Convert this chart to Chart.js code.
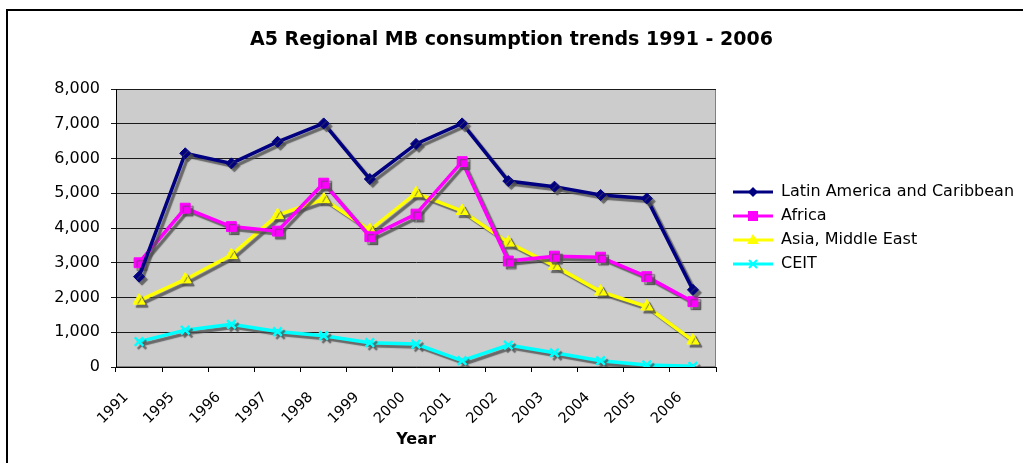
<!DOCTYPE html>
<html>
<head>
<meta charset="utf-8">
<script src="https://cdn.jsdelivr.net/npm/chart.js@4/dist/chart.umd.min.js"></script>
<style>
  html, body { margin: 0; padding: 0; background: #fff; overflow: hidden; }
  #wrap { position: relative; width: 1023px; height: 463px; }
  #frame { position: absolute; left: 6px; top: 9px; width: 1100px; height: 600px; border: 2px solid #000; pointer-events: none; }
</style>
</head>
<body>
<div id="wrap">
  <canvas id="chart" width="1023" height="463"></canvas>
  <div id="frame"></div>
</div>
<script>
const years = ["1991", "1995", "1996", "1997", "1998", "1999", "2000", "2001", "2002", "2003", "2004", "2005", "2006"];
const latinAmerica = [2600, 6150, 5860, 6480, 7010, 5410, 6420, 7010, 5350, 5190, 4950, 4850, 2220];
const africa = [3000, 4570, 4040, 3910, 5290, 3750, 4400, 5910, 3050, 3190, 3160, 2600, 1880];
const asiaMiddleEast = [1910, 2520, 3220, 4370, 4830, 3940, 5000, 4490, 3580, 2910, 2170, 1740, 760];
const ceit = [730, 1060, 1230, 1020, 900, 700, 660, 180, 630, 410, 180, 60, 20];
const seriesNames = ["Latin America and Caribbean", "Africa", "Asia, Middle East", "CEIT"];

const FONT = "'DejaVu Sans', Verdana, sans-serif";
const LEGEND_WIDTH = 307;

// legend icon: short line with the marker in the middle, like Excel
function legendIcon(color, shape) {
  const c = document.createElement("canvas");
  c.width = 49; c.height = 16;
  const g = c.getContext("2d");
  g.strokeStyle = color; g.fillStyle = color; g.lineWidth = 3;
  g.beginPath(); g.moveTo(9, 8); g.lineTo(49, 8); g.stroke();
  const x = 29, y = 8;
  g.beginPath();
  if (shape === "diamond") {
    g.moveTo(x, y - 5); g.lineTo(x + 5, y); g.lineTo(x, y + 5); g.lineTo(x - 5, y); g.closePath(); g.fill();
  } else if (shape === "square") {
    g.fillRect(x - 5, y - 5, 10, 10);
  } else if (shape === "triangle") {
    g.moveTo(x, y - 6); g.lineTo(x + 6, y + 4); g.lineTo(x - 6, y + 4); g.closePath(); g.fill();
  } else {
    g.lineWidth = 2;
    g.moveTo(x - 4, y - 4); g.lineTo(x + 4, y + 4); g.moveTo(x + 4, y - 4); g.lineTo(x - 4, y + 4); g.stroke();
  }
  return c;
}

const colors = ["#000080", "#FF00FF", "#FFFF00", "#00FFFF"];
const icons = [
  legendIcon(colors[0], "diamond"),
  legendIcon(colors[1], "square"),
  legendIcon(colors[2], "triangle"),
  legendIcon(colors[3], "cross")
];

const plotFrame = {
  id: "plotFrame",
  afterInit(chart) {
    // let the legend be as wide as in the original (layout caps it otherwise)
    const lg = chart.legend;
    const fit = lg.fit;
    lg.fit = function () { fit.call(this); this.width = LEGEND_WIDTH; };
  },
  beforeDraw(chart) {
    const { ctx, chartArea: a } = chart;
    ctx.save();
    ctx.fillStyle = "#cccccc";
    ctx.fillRect(a.left, a.top, a.width, a.height);
    ctx.strokeStyle = "#808080";
    ctx.lineWidth = 1;
    ctx.strokeRect(a.left + 0.5, a.top + 0.5, a.width - 1, a.height - 1);
    ctx.restore();
  },
  beforeDatasetsDraw(chart) {
    const ctx = chart.ctx;
    ctx.save();
    ctx.shadowColor = "rgba(80,80,80,0.8)";
    ctx.shadowOffsetX = 3;
    ctx.shadowOffsetY = 3;
    ctx.shadowBlur = 1;
  },
  afterDatasetsDraw(chart) {
    chart.ctx.restore();
  }
};

function series(i, data, style, radius) {
  return {
    label: seriesNames[i],
    data: data,
    borderColor: colors[i],
    backgroundColor: colors[i],
    borderWidth: 3.5,
    pointStyle: style,
    pointRadius: radius,
    pointBorderWidth: style === "crossRot" ? 2.5 : 1,
    pointHoverRadius: radius,
    tension: 0
  };
}

new Chart(document.getElementById("chart"), {
  type: "line",
  data: {
    labels: years,
    datasets: [
      series(0, latinAmerica, "rectRot", 5.5),
      series(1, africa, "rect", 7),
      series(2, asiaMiddleEast, "triangle", 7),
      series(3, ceit, "crossRot", 6)
    ]
  },
  options: {
    responsive: false,
    animation: false,
    events: [],
    layout: { padding: { left: 0, right: 0, top: 0, bottom: 0 } },
    plugins: {
      title: {
        display: true,
        text: "A5 Regional MB consumption trends 1991 - 2006",
        color: "#000",
        font: { family: FONT, size: 19, weight: "bold" },
        padding: { top: 28.6, bottom: 37.6 }
      },
      legend: {
        position: "right",
        fullSize: false,
        labels: {
          color: "#000",
          font: { family: FONT, size: 16 },
          padding: 8,
          usePointStyle: true,
          pointStyleWidth: 49,
          boxHeight: 16,
          generateLabels: chart => chart.data.datasets.map((ds, i) => ({
            text: ds.label,
            pointStyle: icons[i],
            fillStyle: ds.borderColor,
            strokeStyle: ds.borderColor,
            lineWidth: 0,
            hidden: false,
            datasetIndex: i
          }))
        }
      },
      tooltip: { enabled: false }
    },
    scales: {
      x: {
        offset: true,
        afterFit: s => { s.height = 96; },
        grid: { display: true, offset: true, drawOnChartArea: false, drawTicks: true, tickLength: 5, color: "#000" },
        border: { display: true, color: "#000", width: 1 },
        ticks: { color: "#000", font: { family: FONT, size: 14.5 }, minRotation: 45, maxRotation: 45, padding: 17, labelOffset: -13, autoSkip: false },
        title: { display: true, text: "Year", color: "#000", font: { family: FONT, size: 16, weight: "bold" }, padding: { top: 0, bottom: 13.4 } }
      },
      y: {
        min: 0,
        max: 8000,
        afterFit: s => { s.width = 116; },
        grid: { color: "#1a1a1a", lineWidth: 1, drawTicks: true, tickLength: 5 },
        border: { display: true, color: "#000", width: 1 },
        ticks: {
          stepSize: 1000,
          color: "#000",
          padding: 11,
          font: { family: FONT, size: 16 },
          callback: v => v.toLocaleString("en-US")
        }
      }
    }
  },
  plugins: [plotFrame]
});
</script>
</body>
</html>
